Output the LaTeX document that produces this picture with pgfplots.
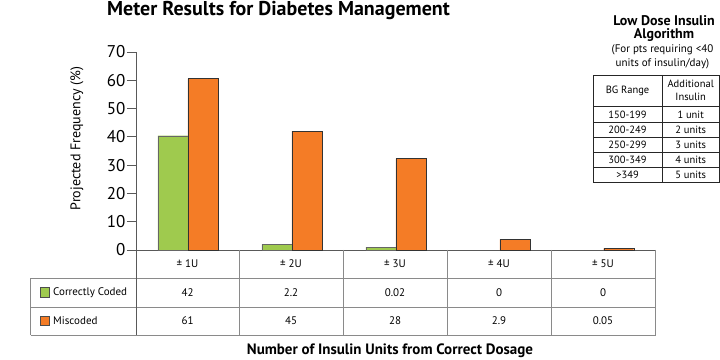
\documentclass[border=0pt]{standalone}
\usepackage{pgfplots}
\pgfplotsset{compat=1.18}
\usepackage{fontspec}
\setmainfont{PT Sans}
\definecolor{cgreen}{HTML}{9FCA4E}
\definecolor{corange}{HTML}{F47C26}
\definecolor{lgray}{HTML}{8A8A8A}
\begin{document}
\begin{tikzpicture}[x=1pt,y=1pt]
\useasboundingbox (0,0) rectangle (720,359);
\begin{axis}[
  at={(136pt,109pt)}, anchor=south west,
  scale only axis, width=519.7pt, height=198pt,
  xmin=-0.5, xmax=4.5, ymin=0, ymax=70,
  ytick={0,10,...,70},
  xtick=\empty,
  axis lines=left, axis line style={draw=black!65, -},
  ytick style={draw=black!65, line width=0.8pt}, tick align=outside, major tick length=9pt,
  yticklabel style={font=\fontsize{17}{17}\selectfont, xshift=2pt},
  /pgf/number format/assume math mode=true,
  ybar=0pt, bar width=30pt,
  clip=false,
]
\addplot[fill=cgreen, draw=black!60] coordinates {(0,40.4) (1,2.0) (2,1.0)};
\addplot[fill=corange, draw=black!80] coordinates {(0,60.6) (1,42) (2,32.3) (3,3.8) (4,0.6)};
\end{axis}
% title
\node[font=\fontsize{20}{20}\selectfont\bfseries, anchor=base, inner sep=0pt] at (278.5,343.5) {Meter Results for Diabetes Management};
% y label
\node[font=\fontsize{14}{14}\selectfont, rotate=90] at (77,220.5) {Projected Frequency (\%)};
% data table
\begin{scope}[draw=lgray, line width=0.8pt]
\draw (30.7,81) -- (655.7,81);
\draw (30.7,52) -- (655.7,52);
\draw (30.7,24) -- (655.7,24);
\draw (30.7,81) -- (30.7,24);
\draw[black!65] (136,109) -- (136,24);
\foreach \x in {239,343,447,551,655.7} \draw (\x,109) -- (\x,24);
\end{scope}
\begin{scope}[font=\fontsize{11}{11}\selectfont]
\foreach \x/\t in {187.5/1,291/2,395/3,499/4,603/5} \node at (\x,95) {± \t U};
\foreach \x/\t in {187.5/42,291/2.2,395/0.02,499/0,603/0} \node at (\x,66.5) {\t};
\foreach \x/\t in {187.5/61,291/45,395/28,499/2.9,603/0.05} \node at (\x,38) {\t};
\filldraw[fill=cgreen, draw=black!70] (40,62) rectangle (49.5,71.5);
\filldraw[fill=corange, draw=black!70] (40,33.5) rectangle (49.5,43);
\node[anchor=west, inner sep=0pt] at (53,66.5) {Correctly Coded};
\node[anchor=west, inner sep=0pt] at (53,38) {Miscoded};
\end{scope}
% x label
\node[font=\fontsize{15}{15}\selectfont\bfseries, anchor=base] at (390,4.5) {Number of Insulin Units from Correct Dosage};
% right panel
\node[font=\fontsize{14}{14}\selectfont\bfseries] at (664,338.3) {Low Dose Insulin};
\node[font=\fontsize{14}{14}\selectfont\bfseries] at (664,324) {Algorithm};
\node[font=\fontsize{11}{11}\selectfont] at (662.5,309.7) {(For pts requiring <40};
\node[font=\fontsize{11}{11}\selectfont] at (662.5,295.7) {units of insulin/day)};
\begin{scope}[draw=black!85, line width=0.8pt]
\draw (593,284) rectangle (719.5,176.3);
\draw (662,284) -- (662,176.3);
\foreach \y in {252.3,236.3,221.7,206.3,191.3} \draw (593,\y) -- (719.5,\y);
\end{scope}
\begin{scope}[font=\fontsize{10.5}{10.5}\selectfont]
\node at (627.5,268.2) {BG Range};
\node at (690.7,275) {Additional};
\node at (690.7,262) {Insulin};
\foreach \y/\a/\b in {244.3/150-199/1 unit, 229/200-249/2 units, 214/250-299/3 units, 198.8/300-349/4 units, 183.8/>349/5 units}{
  \node at (627.5,\y) {\a};
  \node at (690.7,\y) {\b};
}
\end{scope}
\end{tikzpicture}
\end{document}
